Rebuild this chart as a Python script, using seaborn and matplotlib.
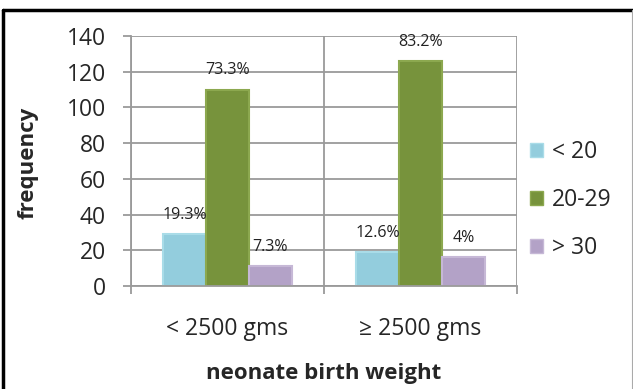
import pandas as pd
import seaborn as sns
import matplotlib.pyplot as plt
from matplotlib.lines import Line2D
from matplotlib.patches import Patch

# data
weights = ["< 2500 gms", "≥ 2500 gms"]
age_groups = ["< 20", "20-29", "> 30"]
freq_under_20 = [29, 19]
freq_20_29 = [110, 126]
freq_over_30 = [11, 16]
pct_labels = {
    "< 20": ["19.3%", "12.6%"],
    "20-29": ["73.3%", "83.2%"],
    "> 30": ["7.3%", "4%"],
}
colors = ["#93CDDD", "#77933C", "#B3A2C7"]
edges = ["#A9DCE8", "#8CA84F", "#C6B8D6"]

rows = []
for grp, vals in zip(age_groups, [freq_under_20, freq_20_29, freq_over_30]):
    for w, v in zip(weights, vals):
        rows.append({"weight": w, "age": grp, "frequency": v})
df = pd.DataFrame(rows)

sns.set_style("white")
plt.rcParams["font.family"] = ["Open Sans", "DejaVu Sans"]

fig = plt.figure(figsize=(6.33, 3.89), dpi=100)
ax = fig.add_axes([131 / 633, 1 - 286 / 389, 386 / 633, 250 / 389])

sns.barplot(data=df, x="weight", y="frequency", hue="age", order=weights,
            hue_order=age_groups, palette=colors, width=0.667,
            saturation=1, ax=ax, legend=False)

# soft edges + percentage labels
for i, cont in enumerate(ax.containers):
    for bar in cont:
        bar.set_edgecolor(edges[i])
        bar.set_linewidth(1.5)
    ax.bar_label(cont, labels=pct_labels[age_groups[i]], padding=8,
                 fontsize=11.5, color="#222222")

ax.set_xlim(-0.5, 1.5)
ax.set_ylim(0, 140)
ax.set_yticks(range(0, 141, 20))
ax.set_xticks([-0.5, 0.5, 1.5], minor=True)

grid_c = "#9A9A9A"
ax.yaxis.grid(True, color=grid_c, linewidth=1.3)
ax.xaxis.grid(True, which="minor", color=grid_c, linewidth=1.3)
ax.set_axisbelow(True)
for s in ["top", "right"]:
    ax.spines[s].set_visible(False)
for s in ["left", "bottom"]:
    ax.spines[s].set_color(grid_c)
    ax.spines[s].set_linewidth(1.3)

ax.tick_params(axis="y", direction="out", length=6, width=1.3, color=grid_c,
               pad=12, labelsize=16.5, left=True)
ax.tick_params(axis="x", which="major", length=0, pad=22, labelsize=16.5)
ax.tick_params(axis="x", which="minor", direction="out", length=6,
               width=1.3, color=grid_c, bottom=True)

ax.set_xlabel("neonate birth weight", fontsize=16, fontweight="bold")
ax.set_ylabel("frequency", fontsize=16, fontweight="bold")
ax.xaxis.set_label_coords(0.5, -0.348)
ax.xaxis.label.set_va("center")
ax.yaxis.set_label_coords(-0.267, 0.492)
ax.yaxis.label.set_va("center")

handles = [Patch(facecolor=c, edgecolor=e, linewidth=1.0)
           for c, e in zip(colors, edges)]
fig.legend(handles, age_groups, loc="center left",
           bbox_to_anchor=(521 / 633, 1 - 200 / 389), frameon=False,
           fontsize=16.5, handlelength=0.55, handleheight=0.55,
           handletextpad=0.4, labelspacing=1.05, borderaxespad=0)

# frame around the figure
fig.add_artist(Line2D([3 / 633, 1], [1 - 10 / 389] * 2, color="black",
                      linewidth=2.5, transform=fig.transFigure))
fig.add_artist(Line2D([3 / 633] * 2, [0, 1 - 10 / 389], color="black",
                      linewidth=2.5, transform=fig.transFigure))
fig.add_artist(Line2D([631.5 / 633] * 2, [0, 1 - 10 / 389], color="#AAAAAA",
                      linewidth=0.8, transform=fig.transFigure))

fig.savefig("out.png", dpi=100)
